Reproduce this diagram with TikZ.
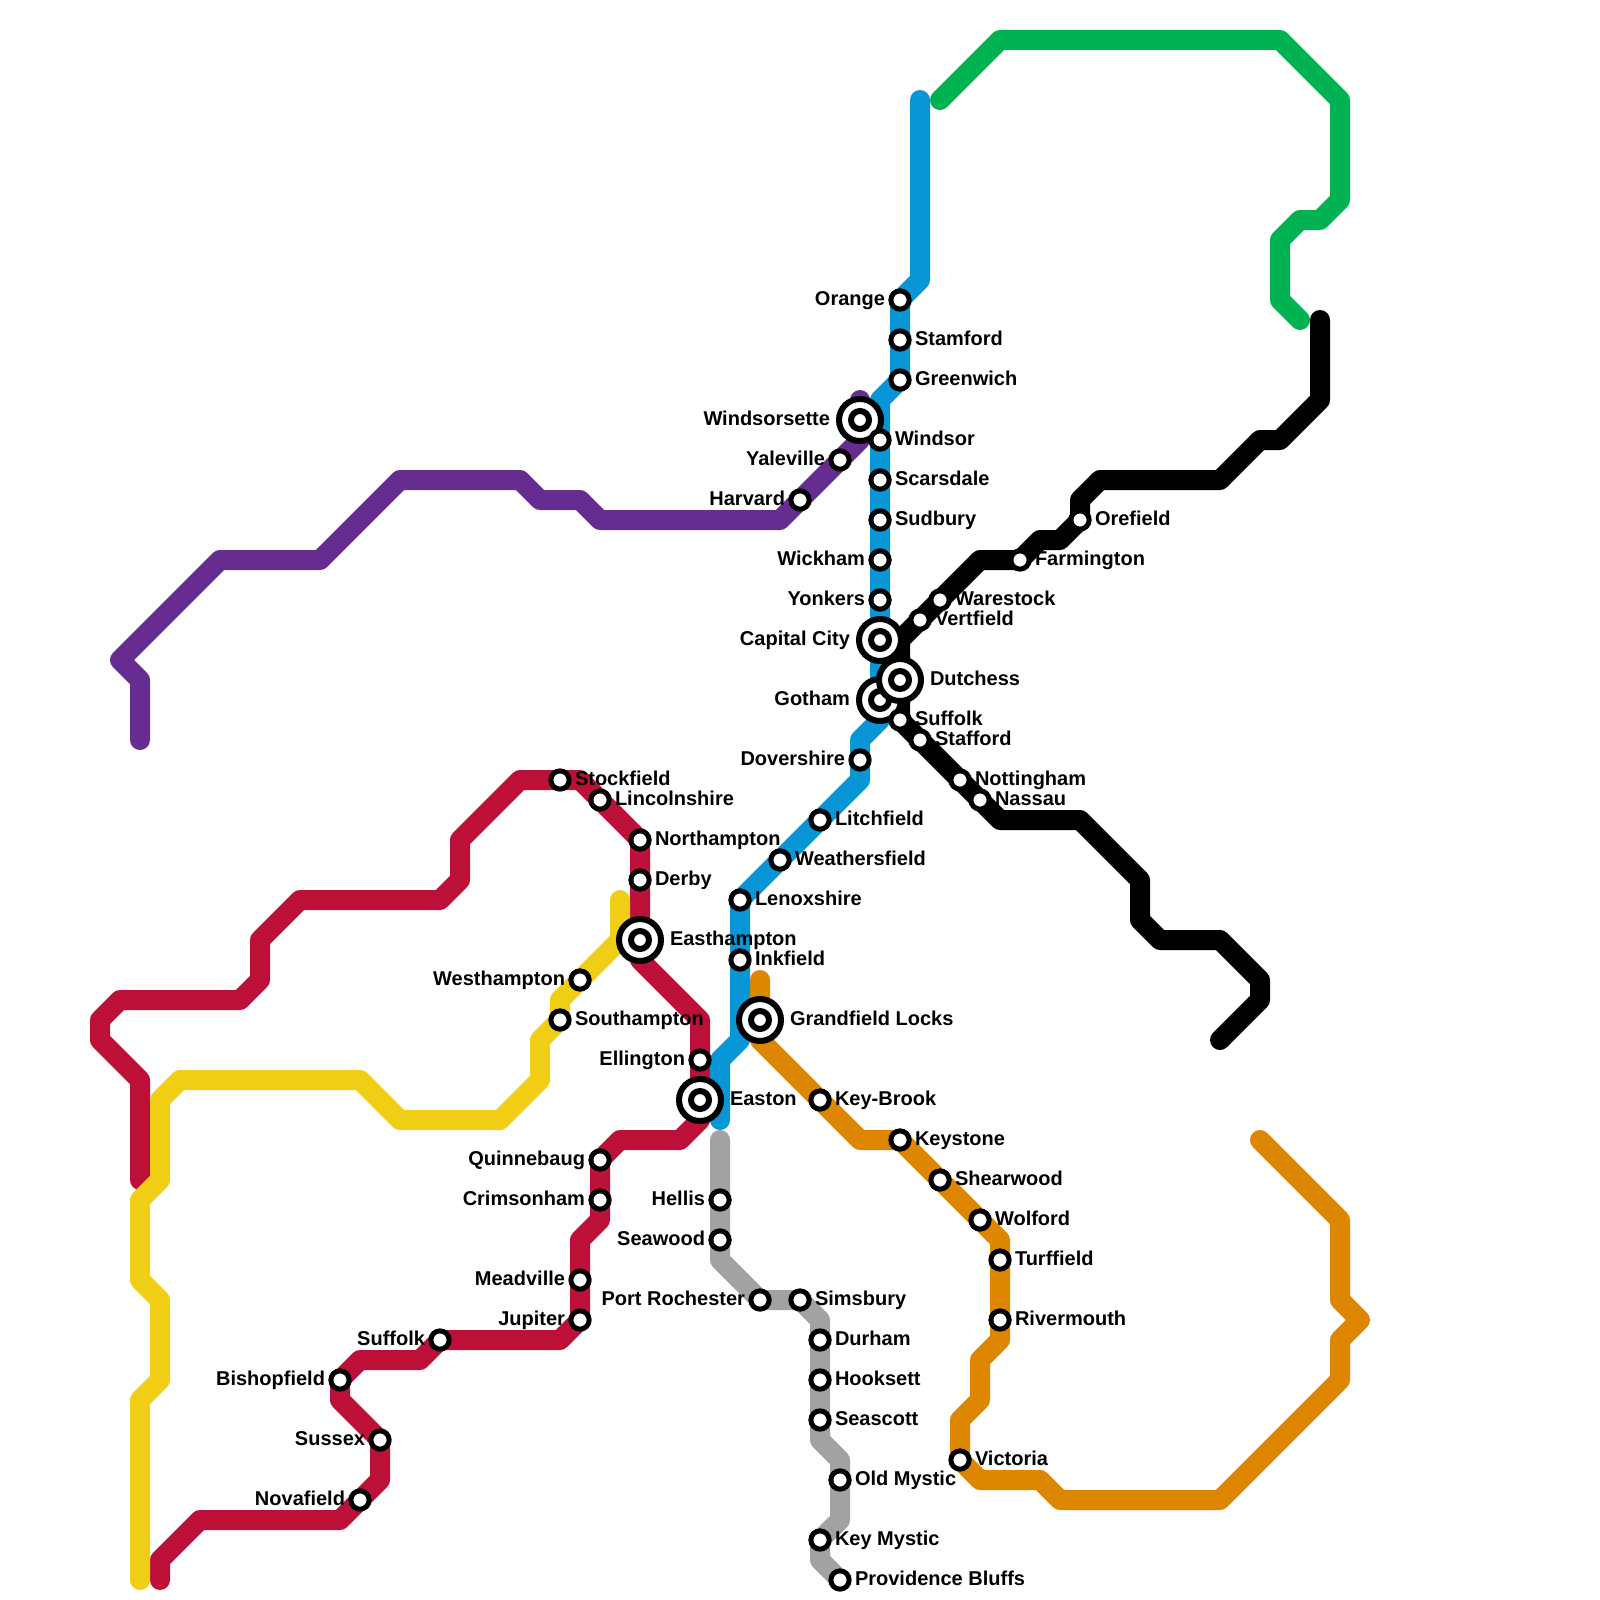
\documentclass[tikz,border=0pt]{standalone}
\usepackage{fontspec}
\setmainfont{Liberation Sans}
\definecolor{cpurple}{HTML}{662C90}
\definecolor{cblue}{HTML}{0896D7}
\definecolor{cgreen}{HTML}{00B251}
\definecolor{cred}{HTML}{BD1038}
\definecolor{cyellow}{HTML}{F0CE15}
\definecolor{corange}{HTML}{DF8600}
\definecolor{cgray}{HTML}{A2A2A2}
\tikzset{
  metro/.style={line width=20pt,line cap=round,line join=round},
  stn/.style={circle,draw=black,fill=white,line width=5pt,minimum size=18.3pt,inner sep=0pt},
  innerstn/.style={circle,draw=black,fill=white,line width=6pt,minimum size=18pt,inner sep=0pt},
  bigstn/.style={circle,draw=black,fill=white,line width=6pt,minimum size=42pt,inner sep=0pt},
  lbl/.style={font=\bfseries\fontsize{20}{22}\selectfont,text=black,inner sep=0pt,outer sep=0pt},
  R/.style={anchor=base west,xshift=15pt,yshift=-5.2pt},
  L/.style={anchor=base east,xshift=-15pt,yshift=-5.2pt},
  IR/.style={anchor=base west,xshift=30pt,yshift=-5.2pt},
  IL/.style={anchor=base east,xshift=-30pt,yshift=-5.2pt},
}
\def\bigs{windsorette/43/21/Windsorsette/IL/0, capital/44/32/Capital City/IL/0, gotham/44/35/Gotham/IL/0, dutchess/45/34/Dutchess/IR/0, easthampton/32/47/Easthampton/IR/0, grandfield/38/51/Grandfield Locks/IR/0, easton/35/55/Easton/IR/0}
\def\smalls{orange/45/15/Orange/L/0, stamford/45/17/Stamford/R/0, greenwich/45/19/Greenwich/R/0, windsor/44/22/Windsor/R/0, scarsdale/44/24/Scarsdale/R/0, sudbury/44/26/Sudbury/R/0, wickham/44/28/Wickham/L/0, yonkers/44/30/Yonkers/L/0, dovershire/43/38/Dovershire/L/0, litchfield/41/41/Litchfield/R/0, weathersfield/39/43/Weathersfield/R/0, lenoxshire/37/45/Lenoxshire/R/0, inkfield/37/48/Inkfield/R/0,
yaleville/42/23/Yaleville/L/0, harvard/40/25/Harvard/L/0,
orefield/54/26/Orefield/R/0, farmington/51/28/Farmington/R/0, warestock/47/30/Warestock/R/0, vertfield/46/31/Vertfield/R/0, suffolkb/45/36/Suffolk/R/0, stafford/46/37/Stafford/R/0, nottingham/48/39/Nottingham/R/0, nassau/49/40/Nassau/R/0,
stockfield/28/39/Stockfield/R/0, lincolnshire/30/40/Lincolnshire/R/0, northampton/32/42/Northampton/R/0, derby/32/44/Derby/R/0, ellington/35/53/Ellington/L/0, quinnebaug/30/58/Quinnebaug/L/0, crimsonham/30/60/Crimsonham/L/0, meadville/29/64/Meadville/L/0, jupiter/29/66/Jupiter/L/0, suffolkr/22/67/Suffolk/L/0, bishopfield/17/69/Bishopfield/L/0, sussex/19/72/Sussex/L/0, novafield/18/75/Novafield/L/0,
westhampton/29/49/Westhampton/L/0, southampton/28/51/Southampton/R/0,
keybrook/41/55/Key-Brook/R/0, keystone/45/57/Keystone/R/0, shearwood/47/59/Shearwood/R/0, wolford/49/61/Wolford/R/0, turffield/50/63/Turffield/R/0, rivermouth/50/66/Rivermouth/R/0, victoria/48/73/Victoria/R/0,
hellis/36/60/Hellis/L/0, seawood/36/62/Seawood/L/0, portrochester/38/65/Port Rochester/L/0, simsbury/40/65/Simsbury/R/0, durham/41/67/Durham/R/0, hooksett/41/69/Hooksett/R/0, seascott/41/71/Seascott/R/0, oldmystic/42/74/Old Mystic/R/0, keymystic/41/77/Key Mystic/R/0, providence/42/79/Providence Bluffs/R/0}
\begin{document}
\begin{tikzpicture}[x=20pt,y=-20pt]
\useasboundingbox (0,0) rectangle (80,80);
\foreach \i/\x/\y/\t/\s/\z in \bigs {\coordinate (\i) at (\x,\y);}
\foreach \i/\x/\y/\t/\s/\z in \smalls {\coordinate (\i) at (\x,\y);}
% purple
\draw[metro,cpurple] (7,37) -- (7,34) -- (6,33) -- (11,28) -- (16,28) -- (20,24) -- (26,24) -- (27,25) -- (29,25) -- (30,26) -- (39,26) -- (harvard) -- (yaleville) -- (43,22) -- (windsorette) -- (43,20);
% green
\draw[metro,cgreen] (47,5) -- (50,2) -- (64,2) -- (67,5) -- (67,10) -- (66,11) -- (65,11) -- (64,12) -- (64,15) -- (65,16);
% red
\draw[metro,cred] (8,79) -- (8,78) -- (10,76) -- (17,76) -- (novafield) -- (19,74) -- (sussex) -- (17,70) -- (bishopfield) -- (18,68) -- (21,68) -- (suffolkr) -- (28,67) -- (jupiter) -- (meadville) -- (29,62) -- (30,61) -- (crimsonham) -- (quinnebaug) -- (31,57) -- (34,57) -- (35,56) -- (easton) -- (ellington) -- (35,51) -- (32,48) -- (easthampton) -- (derby) -- (northampton) -- (lincolnshire) -- (29,39) -- (stockfield) -- (26,39) -- (23,42) -- (23,44) -- (22,45) -- (15,45) -- (13,47) -- (13,49) -- (12,50) -- (6,50) -- (5,51) -- (5,52) -- (7,54) -- (7,59);
% yellow
\draw[metro,cyellow] (7,79) -- (7,70) -- (8,69) -- (8,65) -- (7,64) -- (7,60) -- (8,59) -- (8,55) -- (9,54) -- (18,54) -- (20,56) -- (25,56) -- (27,54) -- (27,52) -- (southampton) -- (28,50) -- (westhampton) -- (31,47) -- (31,45);
% orange
\draw[metro,corange] (38,49) -- (grandfield) -- (38,52) -- (keybrook) -- (43,57) -- (keystone) -- (shearwood) -- (wolford) -- (50,62) -- (turffield) -- (rivermouth) -- (50,67) -- (49,68) -- (49,70) -- (48,71) -- (victoria) -- (49,74) -- (52,74) -- (53,75) -- (61,75) -- (67,69) -- (67,67) -- (68,66) -- (67,65) -- (67,61) -- (63,57);
% gray
\draw[metro,cgray] (36,57) -- (hellis) -- (seawood) -- (36,63) -- (portrochester) -- (simsbury) -- (41,66) -- (durham) -- (hooksett) -- (seascott) -- (41,72) -- (42,73) -- (oldmystic) -- (42,76) -- (keymystic) -- (41,78) -- (providence);
% blue
\draw[metro,cblue] (46,5) -- (46,14) -- (orange) -- (stamford) -- (greenwich) -- (44,20) -- (windsor) -- (scarsdale) -- (sudbury) -- (wickham) -- (yonkers) -- (capital) -- (gotham) -- (44,36) -- (43,37) -- (dovershire) -- (43,39) -- (litchfield) -- (weathersfield) -- (lenoxshire) -- (inkfield) -- (37,52) -- (36,53) -- (36,56);
% black
\draw[metro,black] (66,16) -- (66,20) -- (64,22) -- (63,22) -- (61,24) -- (55,24) -- (54,25) -- (orefield) -- (53,27) -- (52,27) -- (farmington) -- (49,28) -- (warestock) -- (vertfield) -- (45,32) -- (dutchess) -- (suffolkb) -- (stafford) -- (nottingham) -- (nassau) -- (50,41) -- (54,41) -- (57,44) -- (57,46) -- (58,47) -- (61,47) -- (63,49) -- (63,50) -- (61,52);
% interchanges
\foreach \i/\x/\y/\t/\s/\z in \bigs {
  \node[bigstn] (b-\i) at (\i) {};
  \node[innerstn] (s-\i) at (\i) {};
}
\foreach \i/\x/\y/\t/\s/\z in \smalls {
  \node[stn] (s-\i) at (\i) {};
}
\foreach \i/\x/\y/\t/\s/\z in \bigs {
  \node[lbl,\s] (l-\i) at (\i) {\t};
}
\foreach \i/\x/\y/\t/\s/\z in \smalls {
  \node[lbl,\s] (l-\i) at (\i) {\t};
}
\end{tikzpicture}
\end{document}
